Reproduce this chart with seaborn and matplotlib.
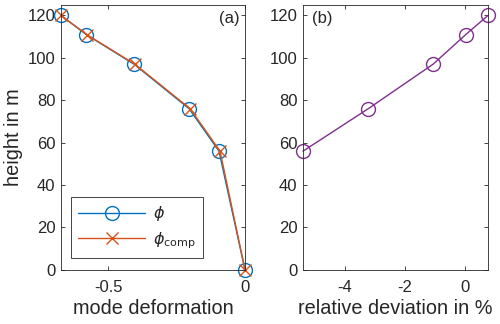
import matplotlib
matplotlib.use("Agg")
import matplotlib.pyplot as plt
import seaborn as sns
import pandas as pd

# data
height = [120, 111, 97, 76, 56, 0]
phi = [-0.672, -0.58, -0.405, -0.204, -0.095, 0.0]
phi_comp = [-0.672, -0.578, -0.402, -0.200, -0.091, 0.0]
height_dev = [56, 76, 97, 111, 120]
rel_dev = [-5.40, -3.23, -1.07, 0.02, 0.76]

blue = "#0072BD"
orange = "#D95319"
purple = "#7E2F8E"
axcol = "#262626"

sns.set_style("ticks")
plt.rcParams["font.family"] = ["Liberation Sans", "DejaVu Sans"]
plt.rcParams["mathtext.fontset"] = "dejavusans"

fig = plt.figure(figsize=(5, 3.24), dpi=100)
ax1 = fig.add_axes([0.122, 0.167, 0.368, 0.818])
ax2 = fig.add_axes([0.606, 0.167, 0.370, 0.818])

df1 = pd.DataFrame({"x": phi, "y": height})
df2 = pd.DataFrame({"x": phi_comp, "y": height})
df3 = pd.DataFrame({"x": rel_dev, "y": height_dev})

sns.lineplot(data=df1, x="x", y="y", sort=False, ax=ax1, color=blue, lw=1,
             marker="o", markersize=10, markerfacecolor="none",
             markeredgecolor=blue, markeredgewidth=1, label=r"$\phi$")
sns.lineplot(data=df2, x="x", y="y", sort=False, ax=ax1, color=orange, lw=1,
             marker="x", markersize=8, markeredgecolor=orange,
             markeredgewidth=1, label=r"$\phi_{\mathrm{comp}}$")
sns.lineplot(data=df3, x="x", y="y", sort=False, ax=ax2, color=purple, lw=1,
             marker="o", markersize=10, markerfacecolor="none",
             markeredgecolor=purple, markeredgewidth=1)

ax1.set_xlim(-0.672, 0)
ax1.set_xticks([-0.5, 0])
ax1.set_xticklabels(["-0.5", "0"])
ax2.set_xlim(-5.40, 0.76)
ax2.set_xticks([-4, -2, 0])
ax2.set_xticklabels(["-4", "-2", "0"])

for ax in (ax1, ax2):
    ax.set_ylim(0, 125)
    ax.set_yticks(range(0, 121, 20))
    ax.tick_params(direction="in", top=True, right=True, length=3,
                   labelsize=12, color=axcol, labelcolor=axcol, width=0.6)
    ax.tick_params(axis="x", pad=7)
    ax.tick_params(axis="y", pad=4)
    for s in ax.spines.values():
        s.set_visible(True)
        s.set_color(axcol)
        s.set_linewidth(0.6)
    for m in ax.lines:
        m.set_clip_on(False)

ax1.set_xlabel("mode deformation", fontsize=14.3, color=axcol, labelpad=3)
ax1.set_ylabel("height in m", fontsize=14.3, color=axcol, labelpad=3)
ax2.set_xlabel("relative deviation in %", fontsize=14.3, color=axcol, labelpad=3)
ax2.set_ylabel("")

ax1.text(0.97, 0.975, "(a)", transform=ax1.transAxes, ha="right", va="top",
         fontsize=12, color=axcol)
ax2.text(0.05, 0.975, "(b)", transform=ax2.transAxes, ha="left", va="top",
         fontsize=12, color=axcol)

leg = ax1.legend(loc="lower left", bbox_to_anchor=(0.054, 0.045), fontsize=11.5,
                 handlelength=4.2, fancybox=False, framealpha=1,
                 borderpad=0.45, labelspacing=0.42, borderaxespad=0,
                 handletextpad=0.5)
leg.get_frame().set_edgecolor(axcol)
leg.get_frame().set_linewidth(0.6)

fig.savefig("out.png", dpi=100)
